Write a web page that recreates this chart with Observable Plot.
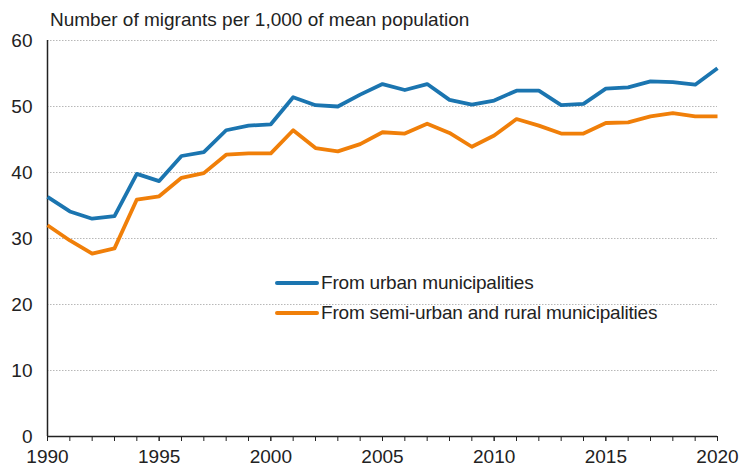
<!DOCTYPE html>
<html>
<head>
<meta charset="utf-8">
<script src="https://cdn.jsdelivr.net/npm/d3@7"></script>
<script src="https://cdn.jsdelivr.net/npm/@observablehq/plot@0.6"></script>
<style>
  body { margin: 0; background: #fff; font-family: "Liberation Sans", Arial, sans-serif; }
  #wrap { position: relative; width: 742px; height: 468px; }
  #title { position: absolute; left: 50px; top: 9px; font-size: 19px; line-height: 22px; color: #222; white-space: nowrap; }
  #chart { position: absolute; left: 0; top: 30px; }
  .leg { position: absolute; font-size: 19px; line-height: 22px; color: #222; white-space: nowrap; display: flex; align-items: center; letter-spacing: -0.2px; }
  .sw { display: inline-block; width: 44px; height: 4px; border-radius: 2px; margin-right: 2px; }
</style>
</head>
<body>
<div id="wrap">
  <div id="title">Number of migrants per 1,000 of mean population</div>
  <div id="chart"></div>
  <div class="leg" style="left:275px; top:272px;"><span class="sw" style="background:#1b75b0"></span><span id="l0"></span></div>
  <div class="leg" style="left:275px; top:302px;"><span class="sw" style="background:#f07f09"></span><span id="l1"></span></div>
</div>
<script>
const years = d3.range(1990, 2021);
const seriesNames = ["From urban municipalities", "From semi-urban and rural municipalities"];
const urban = [36.3, 34.1, 33.0, 33.4, 39.8, 38.7, 42.5, 43.1, 46.4, 47.1, 47.3, 51.4, 50.2, 50.0, 51.8, 53.4,
  52.5, 53.4, 51.0, 50.3, 50.9, 52.4, 52.4, 50.2, 50.4, 52.7, 52.9, 53.8, 53.7, 53.3, 55.8];
const rural = [32.0, 29.7, 27.7, 28.5, 35.9, 36.4, 39.2, 39.9, 42.7, 42.9, 42.9, 46.4, 43.7, 43.2, 44.3, 46.1,
  45.9, 47.4, 46.0, 43.9, 45.6, 48.1, 47.1, 45.9, 45.9, 47.5, 47.6, 48.5, 49.0, 48.5, 48.5];
const yTicks = [0, 10, 20, 30, 40, 50, 60];
const xLabelTicks = [1990, 1995, 2000, 2005, 2010, 2015, 2020];
const colors = ["#1b75b0", "#f07f09"];

document.getElementById("l0").textContent = seriesNames[0];
document.getElementById("l1").textContent = seriesNames[1];

const data = [];
years.forEach((y, i) => {
  data.push({year: y, value: urban[i], series: seriesNames[0]});
  data.push({year: y, value: rural[i], series: seriesNames[1]});
});

const chart = Plot.plot({
  width: 742,
  height: 438,
  marginTop: 10,
  marginBottom: 32,
  marginLeft: 47,
  marginRight: 25,
  style: { fontFamily: "Liberation Sans, Arial, sans-serif", fontSize: "19px", color: "#222", background: "#fff", overflow: "visible" },
  x: { domain: [1990, 2020] },
  y: { domain: [0, 60] },
  color: { domain: seriesNames, range: colors },
  marks: [
    Plot.gridY(yTicks.filter(d => d > 0), { stroke: "#b8b8b8", strokeOpacity: 1, strokeDasharray: "1.5,1.5", strokeWidth: 1 }),
    Plot.axisY(yTicks, { tickSize: 0, tickPadding: 15, fontSize: 19, label: null }),
    Plot.axisX(years, { tickSize: 5, tickFormat: () => "", label: null, stroke: "#222" }),
    Plot.axisX(xLabelTicks, { tickSize: 5, tickPadding: 8, tickFormat: d => String(d), fontSize: 19, label: null, stroke: "#222" }),
    Plot.ruleY([0], { stroke: "#222", strokeWidth: 1.5 }),
    Plot.ruleX([1990], { stroke: "#222", strokeWidth: 1.5 }),
    Plot.line(data, { x: "year", y: "value", z: "series", stroke: "series", strokeWidth: 3.8, strokeLinejoin: "round", strokeLinecap: "butt" })
  ]
});
document.getElementById("chart").appendChild(chart);
</script>
</body>
</html>
